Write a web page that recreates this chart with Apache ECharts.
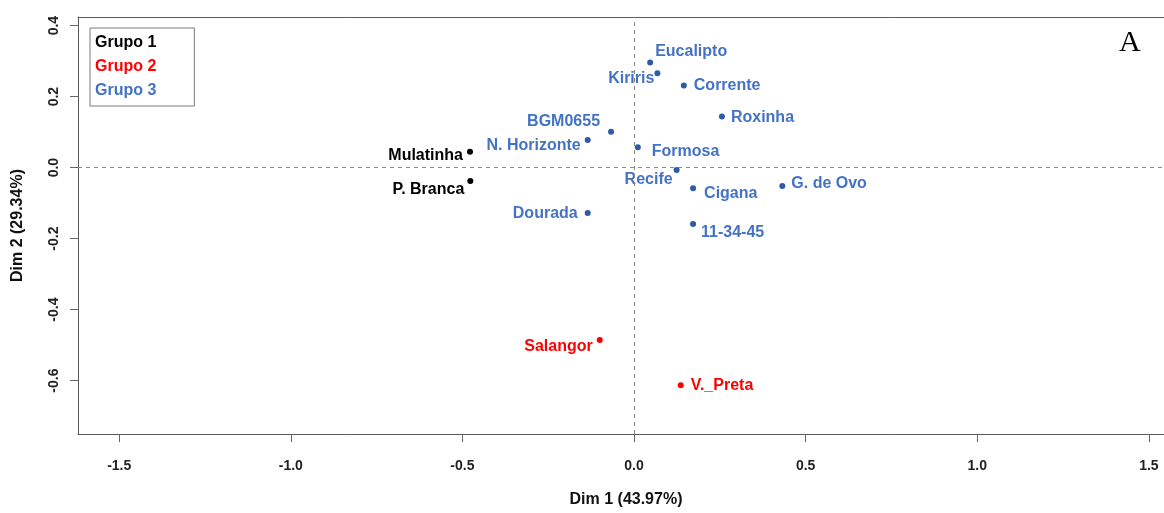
<!DOCTYPE html>
<html>
<head>
<meta charset="utf-8">
<script src="https://cdn.jsdelivr.net/npm/echarts@6/dist/echarts.min.js"></script>
<style>
html,body{margin:0;padding:0;background:#fff;}
#chart{width:1164px;height:513px;}
</style>
</head>
<body>
<div id="chart"></div>
<script>
// ---- data ----
const names = ['Eucalipto','Kiriris','Corrente','Roxinha','BGM0655','N. Horizonte','Formosa','Mulatinha','P. Branca','Recife','Cigana','G. de Ovo','Dourada','11-34-45','Salangor','V._Preta'];
const dim1 = [0.047, 0.068, 0.145, 0.256, -0.067, -0.135, 0.011, -0.478, -0.477, 0.124, 0.172, 0.432, -0.135, 0.172, -0.100, 0.136];
const dim2 = [0.296, 0.266, 0.231, 0.144, 0.101, 0.078, 0.057, 0.045, -0.038, -0.007, -0.058, -0.052, -0.128, -0.159, -0.486, -0.613];
const groups = ['Grupo 3','Grupo 3','Grupo 3','Grupo 3','Grupo 3','Grupo 3','Grupo 3','Grupo 1','Grupo 1','Grupo 3','Grupo 3','Grupo 3','Grupo 3','Grupo 3','Grupo 2','Grupo 2'];
const groupNames = ['Grupo 1','Grupo 2','Grupo 3'];
const xTicks = [-1.5, -1.0, -0.5, 0.0, 0.5, 1.0, 1.5];
const yTicks = [-0.6, -0.4, -0.2, 0.0, 0.2, 0.4];
const xTitle = 'Dim 1 (43.97%)';
const yTitle = 'Dim 2 (29.34%)';
const panelLetter = 'A';

// ---- styling (not data) ----
const dotColors = {'Grupo 1':'#000000','Grupo 2':'#ff0000','Grupo 3':'#2e5aa6'};
const textColors = {'Grupo 1':'#000000','Grupo 2':'#ff0000','Grupo 3':'#4472c4'};
const labelPlace = {
  'Eucalipto':['right',2,-11], 'Kiriris':['left',0,5], 'Corrente':['right',7,0], 'Roxinha':['right',6,1],
  'BGM0655':['left',-8,-10], 'N. Horizonte':['left',-4,6], 'Formosa':['right',11,4], 'Mulatinha':['left',-4,4],
  'P. Branca':['left',-3,8], 'Recife':['left',-1,10], 'Cigana':['right',8,5], 'G. de Ovo':['right',6,-2],
  'Dourada':['left',-7,1], '11-34-45':['right',5,9], 'Salangor':['left',-4,6], 'V._Preta':['right',7,0]
};
const FONT = "'Liberation Sans', Arial, sans-serif";
const X_MIN = -1.62, X_MAX = 1.544;

const series = groupNames.map(function(g, gi){
  const data = [];
  names.forEach(function(n, i){
    if (groups[i] !== g) return;
    const p = labelPlace[n];
    data.push({
      name: n, value: [dim1[i], dim2[i]],
      label: {position: p[0], offset: [p[1], p[2]]}
    });
  });
  const s = {
    name: g, type: 'scatter', symbol: 'circle', symbolSize: 6,
    xAxisIndex: 0, yAxisIndex: 0,
    itemStyle: {color: dotColors[g], opacity: 1},
    label: {show: true, formatter: '{b}', distance: 0, color: textColors[g], opacity: 1,
            fontFamily: FONT, fontWeight: 'bold', fontSize: 16},
    emphasis: {disabled: true},
    data: data
  };
  if (gi === 0) {
    s.markLine = {
      silent: true, symbol: ['none','none'], label: {show: false},
      lineStyle: {type: [4,4], color: '#8a8a8a', width: 1, opacity: 1},
      emphasis: {disabled: true},
      data: [{xAxis: 0}, {yAxis: 0}]
    };
  }
  return s;
});

const chart = echarts.init(document.getElementById('chart'));
chart.setOption({
  animation: false,
  backgroundColor: '#ffffff',
  grid: {left: 78, top: 17, bottom: 76, right: 0, show: false},
  legend: {
    orient: 'vertical', left: 90, top: 28,
    icon: 'none', itemWidth: 0, itemHeight: 0, itemGap: 4,
    padding: [5, 38, 5, 0],
    borderColor: '#7a7a7a', borderWidth: 1,
    textStyle: {fontFamily: FONT, fontWeight: 'bold', fontSize: 16, lineHeight: 20},
    selectedMode: false,
    data: groupNames.map(function(g){ return {name: g, textStyle: {color: textColors[g]}}; })
  },
  xAxis: [{
    type: 'value', min: X_MIN, max: X_MAX, position: 'bottom',
    name: xTitle, nameLocation: 'middle', nameGap: 58,
    nameTextStyle: {fontFamily: FONT, fontWeight: 'bold', fontSize: 16, color: '#111', padding: [0,0,0,10]},
    axisLine: {show: true, onZero: false, lineStyle: {color: '#5a5a5a', width: 1}}, splitLine: {show: false},
    axisTick: {show: true, inside: false, length: 8, lineStyle: {color: '#666'}, customValues: xTicks},
    axisLabel: {customValues: xTicks, margin: 25, fontFamily: FONT, fontWeight: 'bold', fontSize: 14, color: '#222',
      formatter: function(v){ return v.toFixed(1); }}
  }, {
    type: 'value', min: X_MIN, max: X_MAX, position: 'top',
    axisLine: {show: true, onZero: false, lineStyle: {color: '#5a5a5a', width: 1}},
    axisTick: {show: false}, axisLabel: {show: false}, splitLine: {show: false}
  }],
  yAxis: {
    type: 'value', min: -0.7505, max: 0.4243, position: 'left',
    name: yTitle, nameLocation: 'middle', nameGap: 52,
    nameTextStyle: {fontFamily: FONT, fontWeight: 'bold', fontSize: 16, color: '#111'},
    axisLine: {show: true, onZero: false, lineStyle: {color: '#5a5a5a', width: 1}}, splitLine: {show: false},
    axisTick: {show: true, inside: false, length: 8, lineStyle: {color: '#666'}, customValues: yTicks},
    axisLabel: {customValues: yTicks, rotate: 90, margin: 17, fontFamily: FONT, fontWeight: 'bold', fontSize: 14, color: '#222',
      formatter: function(v){ return v.toFixed(1); }}
  },
  graphic: [{
    type: 'text', left: 1119, top: 28, silent: true,
    style: {text: panelLetter, fill: '#000', font: "30px 'Liberation Serif', 'Times New Roman', serif"}
  }],
  series: series
});
</script>
</body>
</html>
